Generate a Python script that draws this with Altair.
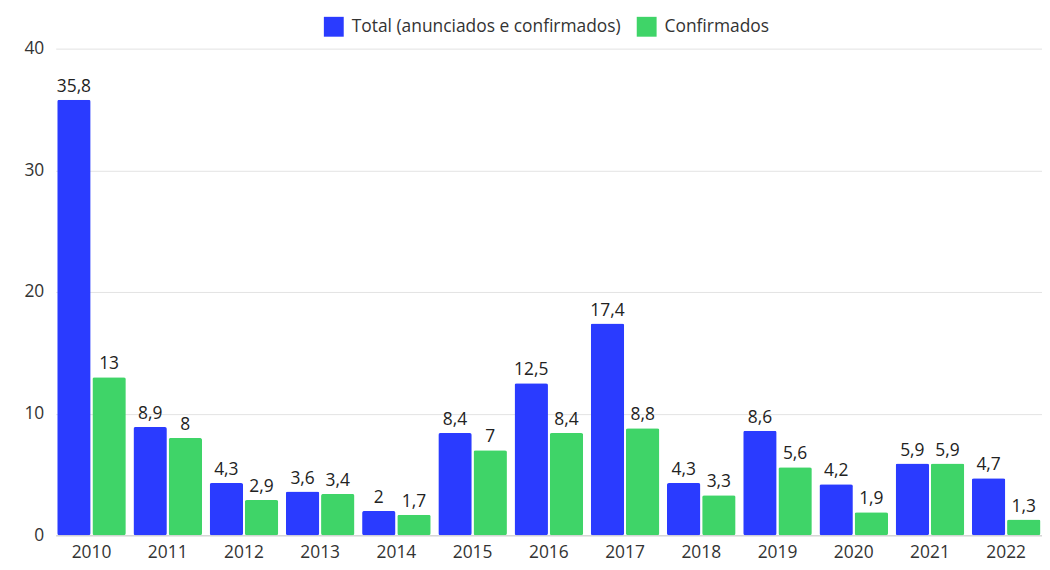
import altair as alt
import pandas as pd

years = [str(y) for y in range(2010, 2023)]
total = [35.8, 8.9, 4.3, 3.6, 2, 8.4, 12.5, 17.4, 4.3, 8.6, 4.2, 5.9, 4.7]
confirmados = [13, 8, 2.9, 3.4, 1.7, 7, 8.4, 8.8, 3.3, 5.6, 1.9, 5.9, 1.3]
series = ["Total (anunciados e confirmados)", "Confirmados"]
colors = ["#2a3bff", "#3fd468"]


def fmt(v):
    s = ("%g" % v)
    return s.replace(".", ",")


rows = []
for i, y in enumerate(years):
    rows.append({"ano": y, "serie": series[0], "valor": total[i], "rotulo": fmt(total[i])})
    rows.append({"ano": y, "serie": series[1], "valor": confirmados[i], "rotulo": fmt(confirmados[i])})
df = pd.DataFrame(rows)

FONT = "Open Sans"

base = alt.Chart(df).encode(
    x=alt.X("ano:N", title=None, sort=years,
            scale=alt.Scale(paddingInner=0.1, paddingOuter=0.02),
            axis=alt.Axis(labelAngle=0, labelFontSize=17.5, labelColor="#333333",
                          ticks=False, domainColor="#cccccc", labelPadding=8,
                          labelFont=FONT)),
    xOffset=alt.XOffset("serie:N", sort=series,
                        scale=alt.Scale(domain=series, paddingInner=0.05)),
    y=alt.Y("valor:Q", title=None,
            scale=alt.Scale(domain=[0, 40]),
            axis=alt.Axis(values=[0, 10, 20, 30, 40], labelFontSize=17.5,
                          labelColor="#333333", ticks=False, domain=False,
                          gridColor="#e3e3e3", labelPadding=12, labelFont=FONT)),
)

bars = base.mark_bar(cornerRadius=2).encode(
    color=alt.Color("serie:N", sort=series,
                    scale=alt.Scale(domain=series, range=colors),
                    legend=alt.Legend(title=None, orient="none", direction="horizontal",
                                      legendX=270, legendY=-32,
                                      symbolType="square", symbolSize=400,
                                      symbolStrokeWidth=0, labelFontSize=17.5,
                                      labelColor="#333333", labelFont=FONT,
                                      columnPadding=16, labelOffset=8,
                                      symbolOpacity=1))
)

labels = base.mark_text(baseline="bottom", dy=-4, fontSize=17.5, color="#222222",
                        font=FONT).encode(text="rotulo:N")

chart = (bars + labels).properties(
    width=993, height=490,
    autosize=alt.AutoSizeParams(type="none"),
    padding={"left": 48, "top": 39, "right": 0, "bottom": 30},
).configure_view(stroke=None).configure_legend(labelLimit=400)

chart.save("out.html", embed_options={"renderer": "svg", "actions": False})
